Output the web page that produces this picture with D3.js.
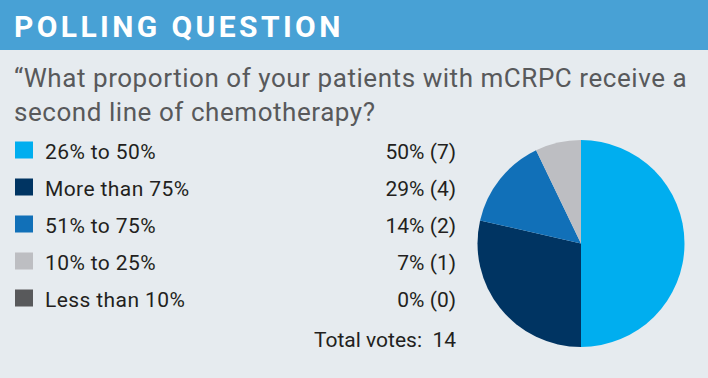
<!DOCTYPE html>
<html>
<head>
<meta charset="utf-8">
<script src="https://cdn.jsdelivr.net/npm/d3@7"></script>
<style>
  html, body { margin: 0; padding: 0; background: #e6ebef; }
  svg { display: block; }
</style>
</head>
<body>
<div class="container"></div>
<script>
const categories = ['26% to 50%', 'More than 75%', '51% to 75%', '10% to 25%', 'Less than 10%'];
const votes = [7, 4, 2, 1, 0];
const percentLabels = ['50%', '29%', '14%', '7%', '0%'];
const colors = ['#00aeef', '#003462', '#1170b8', '#bdbec2', '#58595b'];
const title = 'POLLING QUESTION';
const questionLines = ['\u201CWhat proportion of your patients with mCRPC receive a', 'second line of chemotherapy?'];

const width = 708, height = 378;
const font = 'Roboto, "Liberation Sans", sans-serif';

const svg = d3.select('.container')
    .append('svg')
    .attr('width', width)
    .attr('height', height);

svg.append('rect')
    .attr('width', width).attr('height', height)
    .attr('fill', '#e6ebef');

// header band
svg.append('rect')
    .attr('width', width).attr('height', 50)
    .attr('fill', '#48a1d5');

svg.append('text')
    .attr('x', 14).attr('y', 37)
    .attr('fill', '#fff')
    .attr('font-family', font)
    .attr('font-weight', 700)
    .attr('font-size', 30)
    .attr('letter-spacing', 3.4)
    .text(title);

// question
svg.selectAll('text.q')
    .data(questionLines)
    .enter()
    .append('text')
    .attr('class', 'q')
    .attr('x', 14)
    .attr('y', (d, i) => 87 + i * 34)
    .attr('fill', '#58595b')
    .attr('font-family', font)
    .attr('font-size', 26)
    .attr('letter-spacing', 0.55)
    .text(d => d);

// legend rows
const rowY = d3.scaleBand()
    .domain(categories)
    .range([132, 317]);

const rows = svg.selectAll('g.row')
    .data(categories)
    .enter()
    .append('g')
    .attr('class', 'row')
    .attr('transform', d => `translate(0,${rowY(d)})`);

rows.append('rect')
    .attr('x', 15).attr('y', rowY.bandwidth() / 2 - 9)
    .attr('width', 18).attr('height', 17)
    .attr('fill', (d, i) => colors[i]);

rows.append('text')
    .attr('x', 45).attr('y', rowY.bandwidth() / 2 + 8)
    .attr('fill', '#231f20')
    .attr('font-family', font)
    .attr('font-size', 21)
    .attr('letter-spacing', 0.4)
    .text(d => d);

rows.append('text')
    .attr('x', 456).attr('y', rowY.bandwidth() / 2 + 8)
    .attr('text-anchor', 'end')
    .attr('fill', '#231f20')
    .attr('font-family', font)
    .attr('font-size', 21)
    .text((d, i) => `${percentLabels[i]} (${votes[i]})`);

svg.append('text')
    .attr('x', 456).attr('y', 347)
    .attr('text-anchor', 'end')
    .attr('fill', '#231f20')
    .attr('font-family', font)
    .attr('font-size', 21)
    .attr('xml:space', 'preserve')
    .text('Total votes:  ' + d3.sum(votes));

// pie
const pie = d3.pie().sort(null).value(d => d)(votes);
const arc = d3.arc().innerRadius(0).outerRadius(103.5);

svg.append('g')
    .attr('transform', 'translate(581,243.5)')
    .selectAll('path')
    .data(pie)
    .enter()
    .append('path')
    .attr('d', arc)
    .attr('fill', (d, i) => colors[i]);
</script>
</body>
</html>
